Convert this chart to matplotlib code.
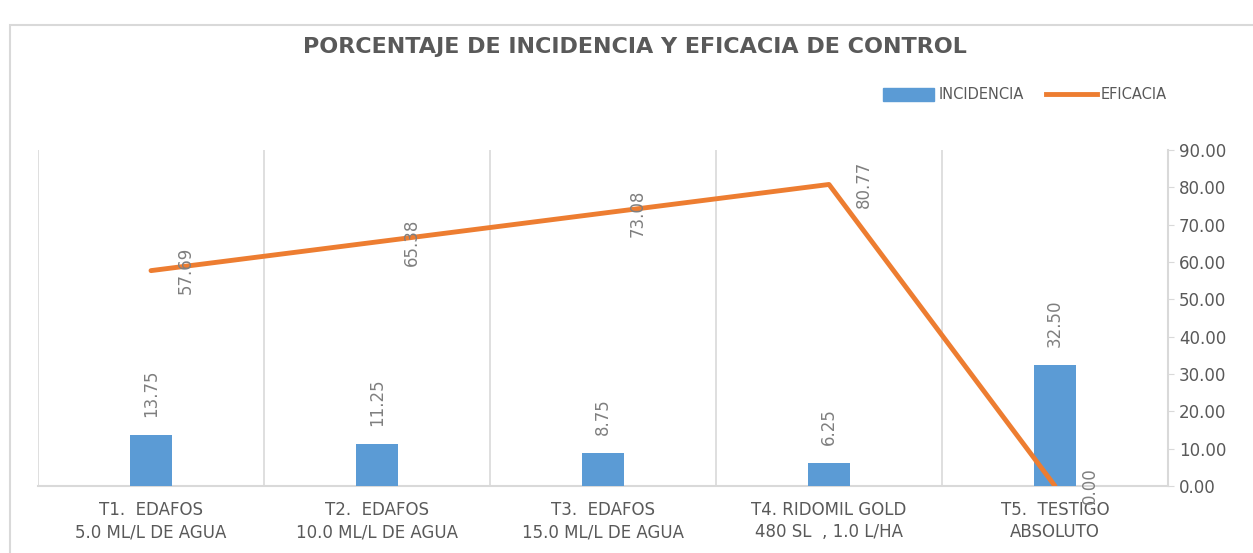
import matplotlib.pyplot as plt
import numpy as np
from matplotlib.patches import Rectangle
from matplotlib.lines import Line2D

categories = ["T1.  EDAFOS\n5.0 ML/L DE AGUA",
              "T2.  EDAFOS\n10.0 ML/L DE AGUA",
              "T3.  EDAFOS\n15.0 ML/L DE AGUA",
              "T4. RIDOMIL GOLD\n480 SL  , 1.0 L/HA",
              "T5.  TESTIGO\nABSOLUTO"]
incidencia = [13.75, 11.25, 8.75, 6.25, 32.50]
eficacia = [57.69, 65.38, 73.08, 80.77, 0.00]

blue = "#5B9BD5"
orange = "#ED7D31"
txt = "#595959"
grid = "#D9D9D9"

fig = plt.figure(figsize=(12.53, 5.53), dpi=100)
fig.patches.append(Rectangle((10/1253, -0.1), 1.2, (553-25)/553 + 0.1,
                             transform=fig.transFigure, fill=False,
                             edgecolor="#D9D9D9", linewidth=1.5))
ax = fig.add_axes([38/1253, 1 - 486/553, (1168-38)/1253, (486-150)/553])

x = np.arange(len(categories)) + 0.5
ax.bar(x, incidencia, width=0.186, color=blue, zorder=3)
ax.plot(x, eficacia, color=orange, linewidth=3.5, solid_capstyle="round", zorder=4)

for xi, v in zip(x, incidencia):
    ax.annotate(f"{v:.2f}", (xi, v), xytext=(0, 13), textcoords="offset points",
                rotation=90, ha="center", va="bottom", fontsize=12, color="#7F7F7F")
for xi, v in zip(x, eficacia):
    ax.annotate(f"{v:.2f}", (xi, v), xytext=(25, 0), textcoords="offset points",
                rotation=90, ha="center", va="center", fontsize=12, color="#7F7F7F", zorder=5)

ax.set_xlim(0, 5)
ax.set_ylim(0, 90)
ax.set_yticks(np.arange(0, 91, 10))
ax.set_yticklabels([f"{t:.2f}" for t in np.arange(0, 91, 10)])
ax.yaxis.tick_right()
ax.tick_params(axis="y", colors=grid, labelcolor=txt, labelsize=12, length=4, pad=4)
ax.set_xticks(x)
ax.set_xticklabels(categories, fontsize=12, color=txt, linespacing=1.3)
ax.tick_params(axis="x", length=0, pad=11)

for b in range(6):
    ax.axvline(b, color=grid, linewidth=1.2, zorder=1)
for s in ["top", "left"]:
    ax.spines[s].set_visible(False)
ax.spines["right"].set_color(grid)
ax.spines["right"].set_linewidth(1.5)
ax.spines["bottom"].set_color(grid)
ax.spines["bottom"].set_linewidth(1.5)

fig.text(635/1253, 1 - 47/553, "PORCENTAJE DE INCIDENCIA Y EFICACIA DE CONTROL",
         ha="center", va="center", fontsize=16, fontweight="bold", color=txt)

handles = [Rectangle((0, 0), 1, 1, color=blue),
           Line2D([0], [0], color=orange, linewidth=3.5)]
fig.legend(handles, ["INCIDENCIA", "EFICACIA"], loc="center",
           bbox_to_anchor=(1025/1253, 1 - 95/553), ncol=2, frameon=False,
           fontsize=10.5, labelcolor=txt, handlelength=3.5, handleheight=0.9,
           handletextpad=0.3, columnspacing=1.5)

fig.savefig("out.png", dpi=100)
